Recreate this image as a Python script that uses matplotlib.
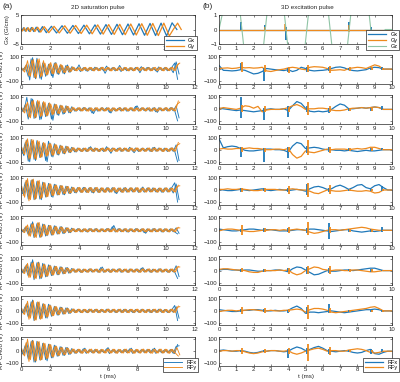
import numpy as np
import matplotlib.pyplot as plt

plt.rcParams['font.family'] = ['Liberation Sans', 'DejaVu Sans']

BLUE = '#1f78b9'
ORANGE = '#ee8a1e'
GREEN = '#8fc4a5'
INK = '#262626'

# ---- (a) 2D saturation pulse ----
# spiral gradients, peak times (ms) and values (G/cm)
gx2_t = [0, 0.05, 0.17, 0.3, 0.43, 0.57, 0.72, 0.88, 1.05, 1.25, 1.48, 1.75, 2.1, 2.45, 2.83, 3.2, 3.58, 3.96,
         4.34, 4.72, 5.1, 5.48, 5.86, 6.24, 6.62, 7.0, 7.38, 7.76, 8.14, 8.52, 8.9, 9.28, 9.66, 10.04, 10.42, 10.75]
gx2_v = [0, -0.5, 0.6, -0.6, 0.6, -0.7, 0.7, -0.7, 0.8, -0.9, 1.0, -1.1, 1.1, -1.2, 1.3, -1.3, 1.4, -1.4,
         1.5, -1.5, 1.6, -1.6, 1.7, -1.7, 1.8, -1.8, 1.9, -1.9, 2.0, -2.0, 2.1, -2.1, 2.2, -2.2, 2.3, 0]
gy2_t = [0, 0.11, 0.23, 0.36, 0.5, 0.64, 0.8, 0.96, 1.15, 1.36, 1.6, 1.92, 2.28, 2.64, 3.02, 3.39, 3.77, 4.15,
         4.53, 4.91, 5.29, 5.67, 6.05, 6.43, 6.81, 7.19, 7.57, 7.95, 8.33, 8.71, 9.09, 9.47, 9.85, 10.23, 10.5, 10.8, 11.05]
gy2_v = [0, -0.5, 0.6, -0.6, 0.6, -0.7, 0.7, -0.7, 0.8, -0.9, 1.0, -1.1, 1.1, -1.2, 1.3, -1.3, 1.4, -1.4,
         1.5, -1.5, 1.6, -1.6, 1.7, -1.7, 1.8, -1.8, 1.9, -1.9, 2.0, -2.0, 2.1, -2.1, 2.2, -2.2, 0, 2.2, 0]

# RF peaks every 0.2 ms (0 .. 10.8 ms), volts; "b" lists are the peaks half a step later
t2 = np.round(np.arange(0, 10.81, 0.2), 2)

rf2_ch1_x = [5, -10, 40, -90, 95, -80, 60, -85, 45, -50, 40, -70, 55, -45, 30, -40, 35, -25] + \
            [15, -12, 35, -15, 12, -18, 10, -14, 12, -10, 15, -35, 12, -10, 14, -12, 30, -10, 12, -14,
             10, -12, 15, -30, 12, -10, 14, -12, 10, -25, 12, -10, 14, -12, 15, 50] + [-85]
rf2_ch1_xb = [-8, 20, -60, 85, -70, 90, -75, 50, -60, 40, -55, 50, -40, 35, -35, 30, -25, 20] + \
             [-12, 14, -20, 12, -15, 10, -12, 16, -10, 12, -14, 25, -10, 12, -15, 10, -20, 12, -14, 10,
              -12, 14, -10, 20, -12, 14, -10, 12, -15, 18, -10, 12, -14, 10, -30, 60] + [-40]
rf2_ch1_y = [10, -25, 70, -60, 80, -75, 85, -60, 50, -45, 55, -40, 45, -35, 30, -30, 25, -20] + \
            [15, -15, 12, -14, 15, -12, 14, -15, 12, -13, 15, -12, 14, -15, 12, -13, 15, -12, 14, -15,
             12, -13, 15, -12, 14, -15, 12, -13, 15, -12, 14, -15, 12, -13, 15, -12] + [45]
rf2_ch1_yb = [-15, 35, -55, 75, -70, 80, -65, 70, -50, 45, -40, 50, -35, 40, -30, 25, -25, 18] + \
             [-13, 12, -15, 14, -12, 15, -13, 12, -14, 15, -12, 13, -15, 14, -12, 13, -14, 15, -12, 13,
              -15, 14, -12, 13, -14, 12, -15, 13, -12, 14, -13, 15, -12, 14, -13, 30] + [50]

rf2_ch2_x = [10, -20, 100, -60, 85, -70, 60, -80, 50, -55, 45, -90, 40, -50, 30, -35, 25, -30] + \
            [12, -15, 10, -12, 15, -10, 12, -35, 10, -12, 15, -10, 12, -30, 10, -12, 15, -10, 12, -14,
             10, -12, 30, -10, 12, -14, 10, -12, 15, -25, 12, -10, 14, -12, 15, -10] + [-95]
rf2_ch2_xb = [-15, 40, -80, 90, -75, 65, -85, 55, -60, 50, -80, 45, -45, 35, -40, 30, -28, 22] + \
             [-14, 12, -13, 15, -12, 14, -30, 12, -15, 10, -12, 14, -25, 12, -13, 10, -14, 12, -15, 10,
              -12, 25, -14, 12, -10, 13, -15, 12, -20, 14, -12, 10, -13, 14, -12, 30] + [-70]
rf2_ch2_y = [15, -30, 60, -70, 75, -65, 70, -55, 60, -50, 45, -40, 40, -35, 30, -25, 25, -20] + \
            [14, -12, 15, -13, 12, -15, 13, -12, 15, -14, 12, -13, 14, -15, 12, -12, 15, -13, 14, -12,
             15, -14, 12, -13, 14, -12, 15, -15, 12, -14, 13, -12, 15, -13, 12, -14] + [70]
rf2_ch2_yb = [-20, 45, -65, 70, -70, 75, -60, 65, -55, 55, -45, 42, -38, 35, -28, 28, -22, 18] + \
             [-12, 14, -13, 15, -14, 12, -13, 14, -12, 15, -14, 12, -13, 14, -15, 12, -13, 14, -12, 15,
              -13, 12, -14, 15, -12, 13, -14, 12, -15, 13, -12, 14, -13, 15, -12, 40] + [60]

rf2_ch3_x = [10, -50, 80, -100, 70, -90, 60, -60, 50, -100, 55, -60, 40, -45, 30, -35, 25, -25] + \
            [15, -20, 12, -15, 10, -14, 25, -12, 10, -15, 12, -10, 14, -30, 12, -10, 15, -12, 10, -14,
             12, -25, 10, -12, 14, -10, 12, -15, 20, -12, 10, -14, 12, -10, 15, -12] + [-100]
rf2_ch3_xb = [-30, 60, -95, 85, -80, 75, -65, 55, -90, 70, -55, 50, -42, 38, -32, 30, -22, 20] + \
             [-18, 14, -12, 13, -15, 20, -12, 14, -12, 10, -15, 25, -12, 14, -10, 13, -14, 12, -12, 20,
              -12, 14, -15, 10, -12, 13, -14, 18, -12, 14, -10, 13, -15, 12, -14, 40] + [-90]
rf2_ch3_y = [20, -40, 90, -70, 80, -80, 70, -60, 55, -50, 50, -45, 40, -35, 30, -30, 25, -20] + \
            [16, -14, 13, -15, 14, -12, 15, -16, 12, -14, 15, -13, 14, -15, 12, -14, 16, -12, 13, -15,
             14, -12, 15, -14, 12, -13, 15, -16, 14, -12, 13, -15, 12, -14, 15, -13] + [60]
rf2_ch3_yb = [-30, 75, -80, 85, -75, 75, -65, 60, -55, 52, -48, 45, -38, 35, -30, 28, -22, 18] + \
             [-15, 14, -14, 13, -15, 16, -13, 14, -15, 12, -14, 15, -13, 14, -15, 12, -14, 15, -13, 14,
              -12, 15, -14, 13, -15, 14, -12, 15, -13, 14, -15, 12, -14, 15, -13, 35] + [50]

rf2_ch4_x = [20, -40, 80, -70, 85, -75, 70, -80, 60, -55, 50, -60, 45, -40, 35, -40, 30, -30] + \
            [20, -25, 18, -20, 22, -18, 20, -25, 18, -20, 15, -18, 20, -15, 18, -30, 15, -18, 20, -15,
             18, -15, 15, -18, 25, -15, 18, -15, 15, -18, 15, -20, 18, -15, 20, 60] + [-100]
rf2_ch4_xb = [-30, 65, -75, 80, -80, 72, -75, 65, -58, 55, -55, 48, -42, 38, -38, 32, -28, 25] + \
             [-22, 20, -18, 22, -20, 18, -22, 20, -18, 16, -16, 18, -18, 20, -25, 16, -16, 18, -18, 16,
              -16, 18, -20, 16, -18, 16, -16, 18, -16, 15, -18, 16, -16, 18, -25, 50] + [-80]
rf2_ch4_y = [30, -60, 95, -80, 90, -70, 80, -65, 60, -55, 50, -45, 40, -40, 35, -30, 30, -25] + \
            [20, -18, 22, -20, 18, -22, 20, -18, 22, -20, 18, -20, 16, -18, 20, -16, 18, -20, 16, -18,
             18, -16, 20, -18, 16, -18, 18, -16, 15, -18, 16, -15, 18, -16, 15, -18] + [40]
rf2_ch4_yb = [-45, 80, -90, 85, -80, 75, -72, 62, -58, 52, -48, 42, -40, 38, -32, 30, -28, 22] + \
             [-19, 21, -21, 19, -20, 21, -19, 20, -21, 19, -19, 18, -17, 19, -18, 17, -19, 18, -17, 19,
              -17, 19, -19, 17, -17, 19, -17, 16, -16, 17, -16, 17, -17, 16, -16, 30] + [35]

rf2_ch5_x = [5, -15, 30, -40, 70, -50, 60, -55, 50, -45, 40, -40, 35, -30, 30, -25, 20, -20] + \
            [12, -10, 14, -12, 10, -15, 12, -10, 14, -12, 10, -12, 15, -10, 40, -12, 14, -10, 12, -15,
             10, -12, 14, -10, 12, -25, 10, -12, 14, -10, 12, -15, 10, -12, 10, -14] + [-30]
rf2_ch5_xb = [-10, 25, -35, 55, -60, 55, -58, 52, -48, 42, -40, 38, -32, 30, -28, 22, -20, 18] + \
             [-11, 13, -13, 11, -12, 14, -11, 12, -13, 11, -11, 13, -12, 30, -14, 13, -12, 11, -13, 12,
              -11, 13, -12, 11, -20, 12, -11, 13, -12, 11, -13, 12, -11, 12, -12, 20] + [-25]
rf2_ch5_y = [10, -20, 45, -50, 55, -60, 65, -50, 45, -40, 40, -35, 30, -30, 25, -20, 20, -15] + \
            [14, -12, 12, -14, 13, -12, 14, -13, 12, -14, 13, -12, 14, -12, 13, -14, 12, -13, 14, -12,
             13, -14, 12, -12, 14, -13, 12, -14, 13, -12, 14, -12, 13, -14, 12, -13] + [25]
rf2_ch5_yb = [-15, 35, -48, 52, -58, 62, -58, 48, -42, 40, -38, 32, -30, 28, -22, 20, -18, 14] + \
             [-13, 13, -13, 13, -12, 13, -13, 13, -13, 13, -12, 13, -13, 13, -13, 13, -12, 13, -13, 13,
              -13, 13, -12, 13, -13, 13, -13, 13, -12, 13, -13, 13, -13, 13, -12, 20] + [20]

rf2_ch6_x = [10, -20, 50, -40, 90, -60, 70, -65, 55, -50, 45, -40, 35, -35, 30, -25, 25, -20] + \
            [14, -12, 12, -15, 10, -12, 14, -10, 12, -14, 30, -12, 10, -14, 12, -10, 15, -12, 10, -14,
             12, -10, 14, -12, 25, -10, 12, -14, 10, -12, 15, -10, 12, -14, 10, -12] + [-65]
rf2_ch6_xb = [-15, 35, -45, 70, -75, 65, -68, 60, -52, 48, -42, 38, -35, 32, -28, 25, -22, 18] + \
             [-13, 13, -14, 12, -11, 13, -12, 11, -13, 25, -14, 11, -12, 13, -11, 13, -14, 11, -12, 13,
              -11, 12, -13, 20, -12, 11, -13, 12, -11, 14, -12, 11, -13, 12, -11, 40] + [-50]
rf2_ch6_y = [15, -25, 60, -55, 70, -65, 65, -55, 50, -45, 40, -35, 35, -30, 25, -25, 20, -15] + \
            [15, -13, 14, -15, 12, -14, 15, -12, 13, -15, 14, -12, 15, -14, 12, -13, 15, -12, 14, -15,
             13, -14, 12, -15, 14, -12, 15, -13, 12, -14, 15, -12, 13, -15, 14, -12] + [35]
rf2_ch6_yb = [-20, 45, -58, 62, -68, 65, -60, 52, -48, 42, -38, 35, -32, 28, -25, 22, -18, 14] + \
             [-14, 14, -15, 13, -13, 15, -13, 12, -14, 15, -13, 13, -15, 13, -12, 14, -13, 13, -15, 14,
              -13, 13, -14, 14, -13, 13, -14, 12, -13, 14, -13, 12, -14, 14, -13, 30] + [30]

rf2_ch7_x = [10, -20, 60, -40, 90, -70, 70, -60, 55, -60, 50, -40, 35, -35, 30, -25, 25, -20] + \
            [15, -12, 12, -14, 10, -15, 12, -10, 14, -12, 10, -12, 15, -10, 12, -14, 10, -12, 14, -10,
             12, -15, 10, -12, 14, -10, 12, -14, 10, -12, 15, -10, 12, -14, 10, 45] + [-80]
rf2_ch7_xb = [-15, 40, -50, 75, -80, 70, -65, 58, -58, 55, -45, 38, -35, 32, -28, 25, -22, 18] + \
             [-13, 12, -13, 12, -12, 14, -11, 12, -13, 11, -11, 14, -12, 11, -13, 12, -11, 13, -12, 11,
              -13, 12, -11, 13, -12, 11, -13, 12, -11, 14, -12, 11, -13, 12, -12, 35] + [-60]
rf2_ch7_y = [20, -30, 80, -60, 85, -75, 75, -65, 55, -50, 45, -40, 35, -30, 25, -25, 20, -15] + \
            [16, -14, 14, -15, 13, -14, 15, -13, 14, -15, 12, -14, 15, -13, 14, -12, 15, -14, 13, -15,
             14, -12, 15, -14, 13, -15, 14, -12, 15, -13, 14, -15, 12, -14, 15, -13] + [40]
rf2_ch7_yb = [-25, 55, -70, 72, -80, 75, -70, 60, -52, 48, -42, 38, -32, 28, -25, 22, -18, 14] + \
             [-15, 15, -14, 14, -13, 15, -14, 14, -15, 14, -13, 14, -14, 14, -13, 14, -15, 14, -14, 14,
              -13, 14, -14, 14, -14, 13, -13, 14, -14, 14, -14, 13, -13, 15, -14, 30] + [35]

rf2_ch8_x = [15, -30, 70, -60, 90, -90, 75, -70, 60, -80, 55, -55, 45, -40, 35, -35, 30, -25] + \
            [15, -18, 12, -15, 25, -12, 10, -15, 12, -14, 10, -12, 30, -10, 12, -14, 10, -12, 15, -10,
             25, -12, 10, -14, 12, -10, 15, -12, 25, -10, 12, -14, 10, -12, 15, -20] + [55]
rf2_ch8_xb = [-22, 50, -65, 80, -90, 82, -72, 65, -70, 58, -55, 50, -42, 38, -35, 32, -28, 22] + \
             [-16, 14, -14, 20, -18, 11, -12, 14, -13, 12, -11, 20, -20, 11, -13, 12, -11, 14, -12, 20,
              -18, 11, -12, 13, -11, 14, -13, 18, -18, 11, -13, 12, -11, 14, -18, 40] + [45]
rf2_ch8_y = [20, -40, 100, -70, 85, -80, 80, -70, 65, -60, 55, -45, 40, -35, 30, -30, 25, -20] + \
            [18, -15, 16, -18, 15, -16, 18, -15, 16, -18, 15, -16, 18, -15, 16, -18, 15, -16, 18, -15,
             16, -18, 15, -16, 18, -15, 16, -18, 15, -16, 18, -15, 16, -18, 15, -16] + [-40]
rf2_ch8_yb = [-30, 70, -85, 85, -82, 80, -75, 68, -62, 58, -50, 42, -38, 32, -30, 28, -22, 18] + \
             [-16, 17, -17, 16, -15, 17, -16, 17, -17, 16, -15, 17, -16, 17, -17, 16, -15, 17, -16, 17,
              -17, 16, -15, 17, -16, 17, -17, 16, -15, 17, -16, 17, -17, 16, -15, 30] + [-30]

rf2_x = [rf2_ch1_x, rf2_ch2_x, rf2_ch3_x, rf2_ch4_x, rf2_ch5_x, rf2_ch6_x, rf2_ch7_x, rf2_ch8_x]
rf2_xb = [rf2_ch1_xb, rf2_ch2_xb, rf2_ch3_xb, rf2_ch4_xb, rf2_ch5_xb, rf2_ch6_xb, rf2_ch7_xb, rf2_ch8_xb]
rf2_y = [rf2_ch1_y, rf2_ch2_y, rf2_ch3_y, rf2_ch4_y, rf2_ch5_y, rf2_ch6_y, rf2_ch7_y, rf2_ch8_y]
rf2_yb = [rf2_ch1_yb, rf2_ch2_yb, rf2_ch3_yb, rf2_ch4_yb, rf2_ch5_yb, rf2_ch6_yb, rf2_ch7_yb, rf2_ch8_yb]

# ---- (b) 3D excitation pulse ----
gz3_t = [0, 0.45, 1.1, 1.55, 2.45, 2.9, 3.65, 4.1, 4.85, 5.3, 6.2, 6.65, 7.3, 7.75, 8.55, 9.0, 9.3, 9.6, 10]
gz3_v = [0, 2.5, 2.5, -2.5, -2.5, 2.5, 2.5, -2.5, -2.5, 2.5, 2.5, -2.5, -2.5, 2.5, 2.5, -2.5, -2.5, 0, 0]
gxy3_t = [0, 10]
gxy3_v = [0, 0]
# gradient blips: time, low, high
gx3_blip_t = [1.3, 2.65, 3.85, 7.5, 8.8]
gx3_blip_lo = [0, 0, -0.75, -0.1, 0]
gx3_blip_hi = [0.55, 0.3, 0.2, 0.55, 0.2]
gy3_blip_t = [2.65, 3.8, 7.5]
gy3_blip_lo = [0, -0.1, -0.2]
gy3_blip_hi = [0.15, 0.35, 0.3]

# smooth RF every 0.25 ms (0 .. 10 ms)
t3 = np.arange(0, 10.01, 0.25)
rf3_ch1_x = [30, -10, -12, -15, -12, -5, -10, -25, -40, -35, -20, 5, 0, -5, -8, -12, -5, -20, -10, 15,
             5, -10, -15, -12, -10, -5, 5, 15, 18, 10, -5, -12, -15, -10, -5, 10, 15, 12, 0, 0, 0]
rf3_ch1_y = [5, 8, 10, 5, 8, 15, 10, 12, 8, 10, 15, -15, -20, -12, -5, 0, 10, 15, 10, 0,
             -5, 15, 20, 18, 15, 5, -10, -8, -5, -10, 5, 10, 15, 12, 5, 20, 35, 25, 0, 0, 0]
rf3_ch2_x = [10, 5, 0, -5, -10, -5, -10, -15, -20, -15, -10, 0, 5, 0, 0, 5, -10, 30, 65, 50,
             10, -15, -20, -15, -20, -15, 0, 25, 45, 35, 5, 5, 10, 15, 10, 15, 20, 15, 0, 0, 0]
rf3_ch2_y = [5, 15, 10, 5, 0, 10, 30, 25, 10, 25, -20, -5, 0, 0, 0, 5, 15, 30, 40, 25,
             0, 5, 5, 10, 10, 5, -5, -10, -10, -5, 5, 10, 10, 15, 10, 15, 20, 15, 0, 0, 0]
rf3_ch3_x = [90, 15, 25, 30, 25, 10, -5, -10, -10, -5, 0, 5, 5, 0, 0, -5, -20, 30, 60, 50,
             10, 15, 20, 15, 5, 0, 0, -5, -5, -10, -5, -10, -15, -10, -5, -10, -10, -5, 0, 0, 0]
rf3_ch3_y = [5, 10, 5, 5, 10, 10, 10, 15, 10, 10, 5, 0, 0, 5, 5, 0, 10, -40, -70, -55,
             -10, -20, -25, -15, -5, 5, 0, 5, 5, 5, 0, 5, 10, 5, 10, 20, 20, 10, 0, 0, 0]
rf3_ch4_x = [5, 0, -5, -5, 0, 5, 0, -5, 0, 5, 10, 0, -5, 0, 5, 0, -5, 0, 5, 0,
             -10, 10, 25, 30, 20, 5, 10, 30, 40, 25, 5, 20, 40, 45, 20, 10, 35, 45, 20, 0, 0]
rf3_ch4_y = [5, 5, 10, 5, 5, 10, 5, 0, -5, -5, 0, 5, 5, 5, 0, 0, 5, 10, 5, 0,
             0, -10, -25, -30, -15, 0, -5, -10, -10, -5, 0, -5, -10, -10, -5, -10, -25, -20, 0, 0, 0]
rf3_ch5_x = [10, 5, 0, -5, -5, 0, 5, 10, 10, 5, 0, 5, 5, 0, -5, -5, -5, 0, 5, 5,
             0, 10, 10, 5, 0, -5, -10, -5, 0, 5, 5, -5, -10, -15, -10, -5, -10, -5, 0, 0, 0]
rf3_ch5_y = [-5, 5, 10, 10, 5, 0, -5, -10, -10, -5, 0, 0, 5, 5, 0, 5, 0, 5, 10, 5,
             0, -15, -25, -20, -10, 0, 5, 5, 0, 5, 10, 15, 20, 25, 20, 10, 5, 0, 0, 0, 0]
rf3_ch6_x = [5, 10, 10, 5, 5, 0, 5, 5, 0, -5, -5, 0, 0, 5, 5, 0, -10, 15, 30, 25,
             5, -15, -35, -30, -15, 0, -5, -5, 0, 5, 5, 0, 5, 10, 15, 20, 20, 10, 0, 0, 0]
rf3_ch6_y = [10, 15, 15, 10, 5, 5, 0, -10, -15, -15, -5, 0, 0, 0, 5, 0, 5, -20, -35, -25,
             0, 15, 30, 25, 10, 5, 0, 5, 5, 0, 0, 5, 5, 0, -5, -10, -10, -5, 0, 0, 0]
rf3_ch7_x = [10, 5, 0, -5, -5, 0, 5, 5, 10, 10, 5, 0, 0, 5, 0, 0, 5, 25, 40, 20,
             -20, -10, -10, -15, -10, -5, 0, -5, -10, -15, -10, -5, 0, 5, 10, 10, 15, 10, 0, 0, 0]
rf3_ch7_y = [-5, 0, 5, 5, 0, 5, 5, 10, 10, 5, 0, 0, 5, 0, 0, 5, 5, 10, 15, 10,
             -10, 10, 20, 20, 15, 5, -10, -15, -10, -5, 0, 5, 10, 15, 20, 30, 35, 20, 0, 0, 0]
rf3_ch8_x = [5, 10, 5, 0, 0, 5, 0, -10, -15, -10, 0, 0, 5, 5, 0, -5, 0, 20, 35, 25,
             5, 15, 30, 40, 25, 5, 0, -5, 0, 5, 0, -10, -15, -10, 5, 15, -20, -25, -10, 0, 0]
rf3_ch8_y = [0, 5, 5, 0, 5, 5, -5, -15, -20, -15, -5, 0, 5, 5, 0, 0, 5, -15, -25, -15,
             0, 10, 20, 25, 15, 0, 5, 5, 0, 0, 10, 15, 20, 15, 5, -10, -15, -10, 0, 0, 0]

# short RF bursts at the gradient blips: (high, low) per burst time
spk_t = [1.3, 2.6, 4.0, 5.1, 6.35, 7.5, 8.8, 9.45]
spk_ch1_x = [50, -10, 5, -100, 10, -20, 15, -20, 20, -15, 10, -10, 10, -10, 15, -5]
spk_ch1_y = [60, -25, 30, -20, 20, -30, 35, -25, 25, -30, 15, -15, 15, -10, 5, -5]
spk_ch2_x = [100, -70, 10, -90, 30, -60, 25, -20, 15, -30, 10, -10, 15, -10, 25, -5]
spk_ch2_y = [40, -20, 30, -20, 20, -20, 60, -50, 25, -25, 10, -10, 10, -10, 5, -5]
spk_ch3_x = [20, -60, 10, -100, 20, -70, 30, -30, 20, -20, 10, -10, 10, -10, 10, -5]
spk_ch3_y = [20, -15, 15, -15, 20, -20, 80, -40, 20, -25, 10, -10, 15, -10, 5, -5]
spk_ch4_x = [15, -15, 15, -10, 20, -20, 50, -40, 20, -20, 10, -10, 10, -10, 30, -5]
spk_ch4_y = [20, -20, 20, -15, 30, -35, 55, -60, 40, -35, 10, -10, 10, -10, 5, -5]
spk_ch5_x = [10, -15, 15, -10, 15, -15, 20, -20, 60, -70, 10, -10, 10, -10, 25, -10]
spk_ch5_y = [45, -35, 20, -15, 25, -20, 70, -35, 25, -25, 10, -10, 10, -10, 5, -5]
spk_ch6_x = [15, -10, 10, -10, 20, -15, 30, -25, 20, -20, 10, -5, 10, -10, 5, -5]
spk_ch6_y = [20, -15, 15, -15, 25, -25, 35, -30, 35, -30, 10, -10, 10, -10, 5, -5]
spk_ch7_x = [15, -10, 15, -10, 10, -15, 30, -25, 55, -20, 10, -10, 10, -10, 10, -5]
spk_ch7_y = [30, -25, 25, -20, 15, -10, 50, -70, 20, -20, 10, -10, 10, -10, 5, -5]
spk_ch8_x = [10, -10, 10, -10, 15, -60, 25, -25, 20, -20, 10, -10, 20, -20, 20, -5]
spk_ch8_y = [25, -25, 20, -15, 25, -25, 60, -80, 35, -30, 10, -10, 10, -10, 5, -5]

rf3_x = [rf3_ch1_x, rf3_ch2_x, rf3_ch3_x, rf3_ch4_x, rf3_ch5_x, rf3_ch6_x, rf3_ch7_x, rf3_ch8_x]
rf3_y = [rf3_ch1_y, rf3_ch2_y, rf3_ch3_y, rf3_ch4_y, rf3_ch5_y, rf3_ch6_y, rf3_ch7_y, rf3_ch8_y]
spk_x = [spk_ch1_x, spk_ch2_x, spk_ch3_x, spk_ch4_x, spk_ch5_x, spk_ch6_x, spk_ch7_x, spk_ch8_x]
spk_y = [spk_ch1_y, spk_ch2_y, spk_ch3_y, spk_ch4_y, spk_ch5_y, spk_ch6_y, spk_ch7_y, spk_ch8_y]

channels = ['CH01', 'CH02', 'CH03', 'CH04', 'CH05', 'CH06', 'CH07', 'CH08']

# ---- layout (pixels) ----
W, H = 400, 382
fig = plt.figure(figsize=(W / 100, H / 100), dpi=100)
AX_H = 29
row_tops = [15] + [54.6 + 40.3 * k for k in range(8)]
LX, LW = 21, 174
RX, RW = 219, 173


def make_ax(x0, w, top):
    return fig.add_axes([x0 / W, 1 - (top + AX_H) / H, w / W, AX_H / H])


def style(ax, xmax, xstep, ylim, yticks, hide=()):
    ax.set_xlim(0, xmax)
    xt = np.arange(0, xmax + 0.01, xstep)
    ax.set_xticks(xt, ['' if v in hide else f'{v:g}' for v in xt])
    ax.set_ylim(ylim)
    ax.set_yticks(yticks)
    ax.tick_params(direction='in', length=1.5, width=0.4, labelsize=4.3, pad=1.2,
                   top=True, right=True, colors=INK)
    for s in ax.spines.values():
        s.set_linewidth(0.5)
        s.set_color(INK)


def add_legend(ax, handles, labels, xa):
    leg = ax.legend(handles, labels, loc='lower right', bbox_to_anchor=(xa, -0.22),
                    fontsize=4, fancybox=False, framealpha=1, edgecolor=INK,
                    handlelength=3.2, handletextpad=0.8, borderpad=0.3, labelspacing=0.15,
                    borderaxespad=0)
    leg.get_frame().set_linewidth(0.5)
    leg.set_zorder(10)


def trace(ax, t, v, **kw):
    n = min(len(t), len(v))
    return ax.plot(t[:n], v[:n], **kw)[0]


# left column
ax = make_ax(LX, LW, row_tops[0])
lx, = ax.plot(gx2_t, gx2_v, color=BLUE, lw=0.9)
ly, = ax.plot(gy2_t, gy2_v, color=ORANGE, lw=0.9)
style(ax, 12, 2, (-5, 5), [-5, 0, 5], hide=(12,))
ax.set_ylabel('Gx (G/cm)', fontsize=4.5, labelpad=1.5, color=INK)
add_legend(ax, [lx, ly], ['Gx', 'Gy'], 1.01)

for k in range(8):
    ax = make_ax(LX, LW, row_tops[k + 1])
    lx = trace(ax, t2, rf2_x[k], color=BLUE, lw=0.65)
    trace(ax, t2 + 0.1, rf2_xb[k], color=BLUE, lw=0.65)
    ly = trace(ax, t2 + 0.05, rf2_y[k], color=ORANGE, lw=0.65)
    trace(ax, t2 + 0.15, rf2_yb[k], color=ORANGE, lw=0.65)
    style(ax, 12, 2, (-120, 120), [-100, 0, 100], hide=(10, 12) if k == 7 else ())
    ax.set_ylabel('RF ' + channels[k] + ' (V)', fontsize=4.5, labelpad=1, color=INK)
    if k == 7:
        ax.set_xlabel('t (ms)', fontsize=4.5, labelpad=1, color=INK)
        add_legend(ax, [lx, ly], ['RFx', 'RFy'], 1.02)

# right column
ax = make_ax(RX, RW, row_tops[0])
lx, = ax.plot(gxy3_t, gxy3_v, color=BLUE, lw=0.9)
ax.vlines(gx3_blip_t, gx3_blip_lo, gx3_blip_hi, color=BLUE, lw=1.4)
ly, = ax.plot(gxy3_t, gxy3_v, color=ORANGE, lw=0.9)
ax.vlines(gy3_blip_t, gy3_blip_lo, gy3_blip_hi, color=ORANGE, lw=1.1)
lz, = ax.plot(gz3_t, gz3_v, color=GREEN, lw=0.8)
style(ax, 10, 1, (-1, 1), [-1, 0, 1], hide=(9, 10))
add_legend(ax, [lx, ly, lz], ['Gx', 'Gy', 'Gz'], 1.04)

for k in range(8):
    ax = make_ax(RX, RW, row_tops[k + 1])
    lx = trace(ax, t3, rf3_x[k], color=BLUE, lw=0.9)
    ly = trace(ax, t3, rf3_y[k], color=ORANGE, lw=0.9)
    sx = np.array(spk_x[k]).reshape(-1, 2)
    sy = np.array(spk_y[k]).reshape(-1, 2)
    ax.vlines(spk_t, sx[:, 1], sx[:, 0], color=BLUE, lw=1.3)
    ax.vlines(np.array(spk_t) + 0.05, sy[:, 1], sy[:, 0], color=ORANGE, lw=1.3)
    style(ax, 10, 1, (-120, 120), [-100, 0, 100], hide=(9, 10) if k == 7 else ())
    if k == 7:
        ax.set_xlabel('t (ms)', fontsize=4.5, labelpad=1, color=INK)
        add_legend(ax, [lx, ly], ['RFx', 'RFy'], 1.04)

fig.text(8 / W, 1 - 7 / H, '(a)', fontsize=6, ha='center', va='center', color=INK)
fig.text(208 / W, 1 - 7 / H, '(b)', fontsize=6, ha='center', va='center', color=INK)
fig.text(98 / W, 1 - 7 / H, '2D saturation pulse', fontsize=4.5, ha='center', va='center', color=INK)
fig.text(307 / W, 1 - 7 / H, '3D excitation pulse', fontsize=4.5, ha='center', va='center', color=INK)

fig.savefig('out.png', dpi=100)
